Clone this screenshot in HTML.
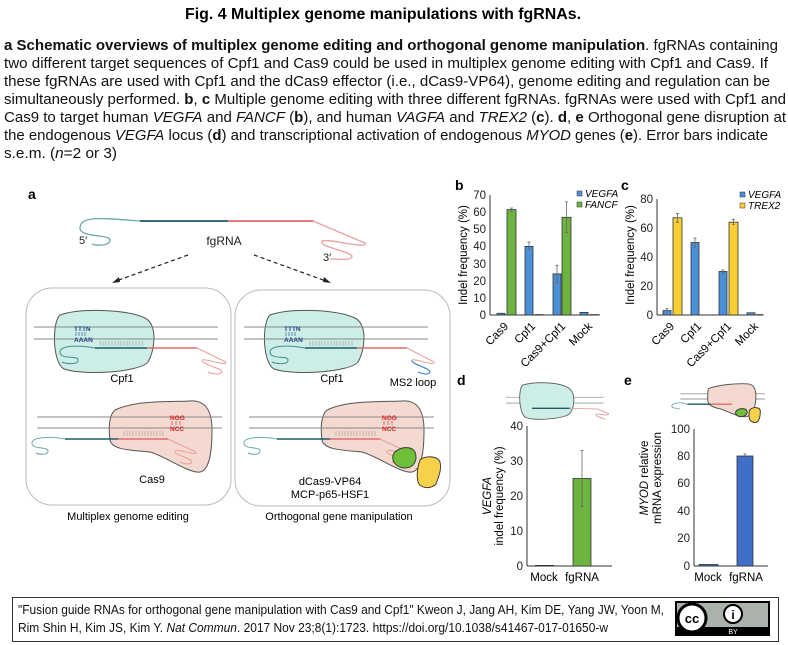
<!DOCTYPE html>
<html><head><meta charset="utf-8"><style>
html,body{margin:0;padding:0;background:#fff;}
svg{display:block;font-family:"Liberation Sans",Arial,sans-serif;}
</style></head><body>
<svg width="788" height="645" viewBox="0 0 788 645" xmlns="http://www.w3.org/2000/svg">
<rect width="788" height="645" fill="#fff"/>
<!-- Title -->
<text x="383" y="19" font-size="16" font-weight="bold" text-anchor="middle" textLength="396" lengthAdjust="spacingAndGlyphs">Fig. 4 Multiplex genome manipulations with fgRNAs.</text>
<g font-size="14.5" fill="#111">
<text x="4" y="50" textLength="774" lengthAdjust="spacingAndGlyphs"><tspan font-weight="bold">a Schematic overviews of multiplex genome editing and orthogonal genome manipulation</tspan>. fgRNAs containing</text>
<text x="4" y="68" textLength="764" lengthAdjust="spacingAndGlyphs">two different target sequences of Cpf1 and Cas9 could be used in multiplex genome editing with Cpf1 and Cas9. If</text>
<text x="4" y="86" textLength="766" lengthAdjust="spacingAndGlyphs">these fgRNAs are used with Cpf1 and the dCas9 effector (i.e., dCas9-VP64), genome editing and regulation can be</text>
<text x="4" y="104" textLength="782" lengthAdjust="spacingAndGlyphs">simultaneously performed. <tspan font-weight="bold">b</tspan>, <tspan font-weight="bold">c</tspan> Multiple genome editing with three different fgRNAs. fgRNAs were used with Cpf1 and</text>
<text x="4" y="122" textLength="782" lengthAdjust="spacingAndGlyphs">Cas9 to target human <tspan font-style="italic">VEGFA</tspan> and <tspan font-style="italic">FANCF</tspan> (<tspan font-weight="bold">b</tspan>), and human <tspan font-style="italic">VAGFA</tspan> and <tspan font-style="italic">TREX2</tspan> (<tspan font-weight="bold">c</tspan>). <tspan font-weight="bold">d</tspan>, <tspan font-weight="bold">e</tspan> Orthogonal gene disruption at</text>
<text x="4" y="140" textLength="764" lengthAdjust="spacingAndGlyphs">the endogenous <tspan font-style="italic">VEGFA</tspan> locus (<tspan font-weight="bold">d</tspan>) and transcriptional activation of endogenous <tspan font-style="italic">MYOD</tspan> genes (<tspan font-weight="bold">e</tspan>). Error bars indicate</text>
<text x="4" y="158" textLength="113" lengthAdjust="spacingAndGlyphs">s.e.m. (<tspan font-style="italic">n</tspan>=2 or 3)</text>
</g>

<!-- Panel a -->
<text x="28" y="199" font-size="14" font-weight="bold">a</text>
<g fill="none" stroke-width="1.3">
<path d="M140,221 C110,219 80,214 80,228 C80,238 110,234 110,240 C110,246 95,246 92,244" stroke="#6aa9a8"/>
<line x1="140" y1="221" x2="228" y2="221" stroke="#1d5b66" stroke-width="1.8"/>
<line x1="228" y1="221" x2="313" y2="221" stroke="#e06a6a" stroke-width="1.8"/>
<path d="M313,221 L365,243 C368,250 330,238 322,241 C318,247 350,251 352,256 C352,262 335,258 330,259" stroke="#e8a0a0"/>
</g>
<g font-size="11" fill="#222">
<text x="79" y="244">5′</text>
<text x="224" y="245" text-anchor="middle" font-size="12">fgRNA</text>
<text x="323" y="261">3′</text>
</g>
<g stroke="#222" stroke-width="1.2" stroke-dasharray="4,3">
<line x1="188" y1="255" x2="116" y2="281"/>
<line x1="254" y1="255" x2="326" y2="281"/>
</g>
<path d="M112,283 l7,-6 l1,5 z M331,283 l-7,-6 l-1,5 z" fill="#222"/>

<rect x="26" y="288" width="205" height="217" rx="26" fill="none" stroke="#bbb" stroke-width="1"/>
<rect x="235" y="290" width="215" height="216" rx="26" fill="none" stroke="#bbb" stroke-width="1"/>

<g id="cpf">
<path d="M60,315 C80,308 125,309 145,318 C158,325 155,350 148,362 C140,372 85,376 64,369 C52,362 52,322 60,315 Z" fill="#cdeee7" stroke="#555" stroke-width="1"/>
<line x1="34" y1="327" x2="218" y2="327" stroke="#888" stroke-width="0.9"/>
<line x1="34" y1="339" x2="218" y2="339" stroke="#888" stroke-width="0.9"/>
<text x="74" y="331" font-size="6.5" fill="#22448a" font-weight="bold">TTTN</text>
<text x="74" y="342" font-size="6.5" fill="#22448a" font-weight="bold">AAAN</text>
<path d="M76,332 v4 M79,332 v4 M82,332 v4 M85,332 v4" stroke="#22448a" stroke-width="0.6"/>
<path d="M100,341 v5 M103,341 v5 M106,341 v5 M109,341 v5 M112,341 v5 M115,341 v5 M118,341 v5 M121,341 v5 M124,341 v5 M127,341 v5 M130,341 v5 M133,341 v5 M136,341 v5 M139,341 v5 M142,341 v5" stroke="#999" stroke-width="0.6"/>
<path d="M95,348 C80,345 60,345 60,352 C60,360 78,355 78,360 C78,366 64,363 62,362" fill="none" stroke="#3d8f8e" stroke-width="1"/>
<line x1="95" y1="348" x2="147" y2="348" stroke="#1d5b66" stroke-width="1.6"/>
<line x1="147" y1="348" x2="197" y2="348" stroke="#e06a6a" stroke-width="1.6"/>
<text x="122" y="382" font-size="11" text-anchor="middle">Cpf1</text>
</g>
<path d="M197,348 L226,362 C228,367 205,358 202,360 C200,364 222,368 222,372 C220,376 210,373 208,372" fill="none" stroke="#e8a0a0" stroke-width="1"/>
<use href="#cpf" x="210" y="0"/>
<path d="M407,348 L434,362 C436,367 415,358 412,360" fill="none" stroke="#e8a0a0" stroke-width="1"/>
<path d="M412,360 C410,364 430,368 430,372 C428,376 420,373 418,372" fill="none" stroke="#3a7fc8" stroke-width="1.1"/>
<text x="413" y="386" font-size="11" text-anchor="middle">MS2 loop</text>

<g id="cas">
<path d="M115,410 C135,400 170,402 190,401 C205,400 212,410 212,430 C212,450 210,470 200,472 C190,474 165,456 150,452 C130,450 112,450 110,440 C108,425 110,414 115,410 Z" fill="#f3d9cf" stroke="#555" stroke-width="1"/>
<line x1="37" y1="417" x2="222" y2="417" stroke="#888" stroke-width="0.9"/>
<line x1="37" y1="428" x2="222" y2="428" stroke="#888" stroke-width="0.9"/>
<text x="170" y="420" font-size="6.5" fill="#d22" font-weight="bold">NGG</text>
<text x="170" y="431" font-size="6.5" fill="#d22" font-weight="bold">NCC</text>
<path d="M172,421 v4 M176,421 v4 M180,421 v4" stroke="#d22" stroke-width="0.6"/>
<path d="M124,431 v5 M127,431 v5 M130,431 v5 M133,431 v5 M136,431 v5 M139,431 v5 M142,431 v5 M145,431 v5 M148,431 v5 M151,431 v5 M154,431 v5 M157,431 v5 M160,431 v5 M163,431 v5" stroke="#999" stroke-width="0.6"/>
<path d="M65,439 C50,436 32,437 32,443 C32,450 48,446 48,451 C48,456 38,454 36,453" fill="none" stroke="#6aa9a8" stroke-width="1"/>
<line x1="65" y1="439" x2="118" y2="439" stroke="#1d5b66" stroke-width="1.6"/>
<line x1="118" y1="439" x2="168" y2="439" stroke="#e06a6a" stroke-width="1.6"/>
<path d="M168,439 L196,452 C198,457 178,448 175,451 C173,455 192,458 192,462 C190,466 182,463 180,462" fill="none" stroke="#e8a0a0" stroke-width="1"/>
</g>
<text x="152" y="483" font-size="11" text-anchor="middle">Cas9</text>
<use href="#cas" x="212" y="0"/>
<path d="M394,453 C400,446 412,446 415,452 C418,460 414,468 405,468 C396,468 390,460 394,453 Z" fill="#6fbf3a" stroke="#333" stroke-width="0.9"/>
<path d="M420,460 C425,455 438,456 440,462 C442,470 438,478 436,484 C430,490 420,488 418,482 C416,474 418,466 420,460 Z" fill="#f7d14a" stroke="#333" stroke-width="0.9"/>
<text x="330" y="485" font-size="11" text-anchor="middle">dCas9-VP64</text>
<text x="330" y="498" font-size="11" text-anchor="middle">MCP-p65-HSF1</text>
<text x="128" y="520" font-size="11" text-anchor="middle">Multiplex genome editing</text>
<text x="339" y="520" font-size="11" text-anchor="middle">Orthogonal gene manipulation</text>

<!-- Panel b -->
<text x="455" y="190" font-size="14" font-weight="bold">b</text>
<g font-size="11.5" fill="#222" text-anchor="end">
<text x="486" y="319">0</text><text x="486" y="302">10</text><text x="486" y="285">20</text><text x="486" y="268">30</text><text x="486" y="250">40</text><text x="486" y="233">50</text><text x="486" y="216">60</text><text x="486" y="199">70</text>
</g>
<line x1="490" y1="195" x2="490" y2="315" stroke="#333"/>
<line x1="490" y1="315" x2="600" y2="315" stroke="#333"/>
<text transform="translate(467,255) rotate(-90)" font-size="11.5" text-anchor="middle">Indel frequency (%)</text>
<g stroke="#333" stroke-width="0.8">
<rect x="497" y="313.3" width="8" height="1.7" fill="#4b8fd6"/>
<rect x="507" y="209.6" width="9" height="105.4" fill="#6db33f"/>
<rect x="525" y="246.4" width="8" height="68.6" fill="#4b8fd6"/>
<rect x="535" y="314.6" width="8" height="0.4" fill="#6db33f"/>
<rect x="553" y="273.9" width="8" height="41.1" fill="#4b8fd6"/>
<rect x="562" y="217.3" width="9" height="97.7" fill="#6db33f"/>
<rect x="580" y="312.4" width="8" height="2.6" fill="#4b8fd6"/>
<rect x="590" y="314.6" width="8" height="0.4" fill="#6db33f"/>
</g>
<g stroke="#666" stroke-width="0.8">
<path d="M511.5,208 v3.5 M510,208 h3 M510,211.5 h3"/>
<path d="M529,242 v7.7 M527.5,242 h3 M527.5,249.7 h3"/>
<path d="M557,265.3 v17.1 M555.5,265.3 h3 M555.5,282.4 h3"/>
<path d="M566.5,201.9 v30.7 M565,201.9 h3 M565,232.6 h3"/>
</g>
<rect x="577" y="191" width="5" height="5" fill="#4b8fd6" stroke="#333" stroke-width="0.5"/>
<text x="585" y="197" font-size="10" font-style="italic">VEGFA</text>
<rect x="577" y="202" width="5" height="5" fill="#6db33f" stroke="#333" stroke-width="0.5"/>
<text x="585" y="208" font-size="10" font-style="italic">FANCF</text>
<g font-size="11.5" text-anchor="end">
<text transform="translate(509,327) rotate(-45)">Cas9</text>
<text transform="translate(536,327) rotate(-45)">Cpf1</text>
<text transform="translate(566,327) rotate(-45)">Cas9+Cpf1</text>
<text transform="translate(593,327) rotate(-45)">Mock</text>
</g>

<!-- Panel c -->
<text x="621" y="190" font-size="14" font-weight="bold">c</text>
<g font-size="11.5" fill="#222" text-anchor="end">
<text x="653" y="319">0</text><text x="653" y="290">20</text><text x="653" y="261">40</text><text x="653" y="232">60</text><text x="653" y="203">80</text>
</g>
<line x1="657" y1="199" x2="657" y2="315" stroke="#333"/>
<line x1="657" y1="315" x2="763" y2="315" stroke="#333"/>
<text transform="translate(634,255) rotate(-90)" font-size="11.5" text-anchor="middle">Indel frequency (%)</text>
<g stroke="#333" stroke-width="0.8">
<rect x="663" y="310.6" width="8" height="4.4" fill="#4b8fd6"/>
<rect x="673" y="217.8" width="9" height="97.2" fill="#f9cf35"/>
<rect x="691" y="242.5" width="8" height="72.5" fill="#4b8fd6"/>
<rect x="719" y="271.5" width="8" height="43.5" fill="#4b8fd6"/>
<rect x="729" y="222.2" width="9" height="92.8" fill="#f9cf35"/>
<rect x="747" y="312.8" width="8" height="2.2" fill="#4b8fd6"/>
<rect x="757" y="314.6" width="6" height="0.4" fill="#f9cf35"/>
</g>
<g stroke="#666" stroke-width="0.8">
<path d="M667,308.5 v4.3 M665.5,308.5 h3"/>
<path d="M677.5,213.5 v8.7 M676,213.5 h3 M676,222.2 h3"/>
<path d="M695,238.2 v8.7 M693.5,238.2 h3 M693.5,246.9 h3"/>
<path d="M723,270 v3 M721.5,270 h3 M721.5,273 h3"/>
<path d="M733.5,219.3 v5.1 M732,219.3 h3 M732,224.4 h3"/>
</g>
<rect x="740" y="192" width="5" height="5" fill="#4b8fd6" stroke="#333" stroke-width="0.5"/>
<text x="748" y="198" font-size="10" font-style="italic">VEGFA</text>
<rect x="740" y="203" width="5" height="5" fill="#f9cf35" stroke="#333" stroke-width="0.5"/>
<text x="748" y="209" font-size="10" font-style="italic">TREX2</text>
<g font-size="11.5" text-anchor="end">
<text transform="translate(675,327) rotate(-45)">Cas9</text>
<text transform="translate(702,327) rotate(-45)">Cpf1</text>
<text transform="translate(732,327) rotate(-45)">Cas9+Cpf1</text>
<text transform="translate(759,327) rotate(-45)">Mock</text>
</g>

<!-- Panel d -->
<text x="457" y="385" font-size="14" font-weight="bold">d</text>
<g transform="translate(506,381) scale(0.65)">
<line x1="0" y1="25" x2="150" y2="25" stroke="#999" stroke-width="1.3"/>
<line x1="0" y1="34" x2="150" y2="34" stroke="#999" stroke-width="1.3"/>
<path d="M26,6 C50,0 85,2 98,12 C108,20 105,42 98,50 C90,58 45,62 30,56 C20,50 18,12 26,6 Z" fill="#cdeee7" stroke="#555" stroke-width="1.3"/>
<line x1="40" y1="42" x2="98" y2="42" stroke="#1d5b66" stroke-width="2"/>
<path d="M98,42 L140,43 L158,50 C156,56 142,48 138,52 C138,56 152,56 152,60" fill="none" stroke="#e8a0a0" stroke-width="1.5"/>
</g>
<g font-size="11.5" fill="#222" text-anchor="end">
<text x="523" y="570">0</text><text x="523" y="535">10</text><text x="523" y="500">20</text><text x="523" y="465">30</text><text x="523" y="430">40</text>
</g>
<line x1="527" y1="426" x2="527" y2="566" stroke="#333"/>
<line x1="527" y1="566" x2="612" y2="566" stroke="#333"/>
<text transform="translate(491,496) rotate(-90)" font-size="11.5" text-anchor="middle" font-style="italic">VEGFA</text>
<text transform="translate(503,496) rotate(-90)" font-size="11.5" text-anchor="middle">indel frequency (%)</text>
<rect x="535" y="565" width="19" height="1" fill="#333"/>
<rect x="573" y="478.5" width="18" height="87.5" fill="#6db33f" stroke="#333" stroke-width="0.8"/>
<path d="M582,450.5 v56 M580.5,450.5 h3 M580.5,506.5 h3" stroke="#666" stroke-width="0.8"/>
<text x="544" y="581" font-size="11.5" text-anchor="middle">Mock</text>
<text x="582" y="581" font-size="11.5" text-anchor="middle">fgRNA</text>

<!-- Panel e -->
<text x="624" y="385" font-size="14" font-weight="bold">e</text>
<g transform="translate(671,383) scale(0.47)">
<line x1="20" y1="23" x2="200" y2="23" stroke="#999" stroke-width="2"/>
<line x1="20" y1="34" x2="200" y2="34" stroke="#999" stroke-width="2"/>
<path d="M80,12 C100,4 140,0 165,2 C180,4 182,20 180,40 C178,55 170,70 160,72 C140,72 120,60 105,55 C90,52 78,48 78,35 C78,22 78,15 80,12 Z" fill="#f3d9cf" stroke="#555" stroke-width="2"/>
<path d="M35,45 C20,40 0,42 2,50 C4,56 18,52 18,56" fill="none" stroke="#6aa9a8" stroke-width="2"/>
<line x1="35" y1="45" x2="85" y2="45" stroke="#1d5b66" stroke-width="3"/>
<line x1="85" y1="45" x2="130" y2="45" stroke="#e06a6a" stroke-width="3"/>
<path d="M140,58 C150,52 162,54 162,62 C162,70 150,74 142,70 C136,66 136,62 140,58 Z" fill="#6fbf3a" stroke="#333" stroke-width="2"/>
<path d="M170,55 C178,50 190,52 190,60 C190,72 188,82 180,84 C170,84 166,78 166,70 C166,62 166,58 170,55 Z" fill="#f7d14a" stroke="#333" stroke-width="2"/>
</g>
<g font-size="11.5" fill="#222" text-anchor="end">
<text x="690" y="570">0</text><text x="690" y="542">20</text><text x="690" y="515">40</text><text x="690" y="487">60</text><text x="690" y="460">80</text><text x="690" y="433">100</text>
</g>
<line x1="694" y1="429" x2="694" y2="566" stroke="#333"/>
<line x1="694" y1="566" x2="768" y2="566" stroke="#333"/>
<text transform="translate(648,478) rotate(-90)" font-size="11.5" text-anchor="middle"><tspan font-style="italic">MYOD</tspan> relative</text>
<text transform="translate(661,478) rotate(-90)" font-size="11.5" text-anchor="middle">mRNA expression</text>
<rect x="699" y="564.5" width="19" height="1.5" fill="#3f6fc8" stroke="#333" stroke-width="0.8"/>
<rect x="737" y="456" width="16" height="110" fill="#3f6fc8" stroke="#333" stroke-width="0.8"/>
<path d="M745,454 v4 M743.5,454 h3" stroke="#666" stroke-width="0.8"/>
<text x="708" y="581" font-size="11.5" text-anchor="middle">Mock</text>
<text x="746" y="581" font-size="11.5" text-anchor="middle">fgRNA</text>

<!-- Footer -->
<rect x="12.5" y="597.5" width="766" height="44" fill="none" stroke="#333" stroke-width="1"/>
<g font-size="12.5" fill="#111">
<text x="18" y="614" textLength="646" lengthAdjust="spacingAndGlyphs">"Fusion guide RNAs for orthogonal gene manipulation with Cas9 and Cpf1" Kweon J, Jang AH, Kim DE, Yang JW, Yoon M,</text>
<text x="18" y="632" textLength="590" lengthAdjust="spacingAndGlyphs">Rim Shin H, Kim JS, Kim Y. <tspan font-style="italic">Nat Commun</tspan>. 2017 Nov 23;8(1):1723. https://doi.org/10.1038/s41467-017-01650-w</text>
</g>
<rect x="675" y="601" width="95" height="35" fill="#000"/>
<rect x="677" y="603" width="91" height="24" fill="#aab2ab"/>
<circle cx="692" cy="618" r="14" fill="#fff" stroke="#000" stroke-width="3"/>
<text x="692" y="623" font-size="13" font-weight="bold" text-anchor="middle">cc</text>
<circle cx="733" cy="614" r="9" fill="#fff" stroke="#000" stroke-width="2"/>
<text x="733" y="619" font-size="12" font-weight="bold" text-anchor="middle">i</text>
<text x="733" y="634" font-size="7" fill="#fff" text-anchor="middle">BY</text>
</svg>
</body></html>
